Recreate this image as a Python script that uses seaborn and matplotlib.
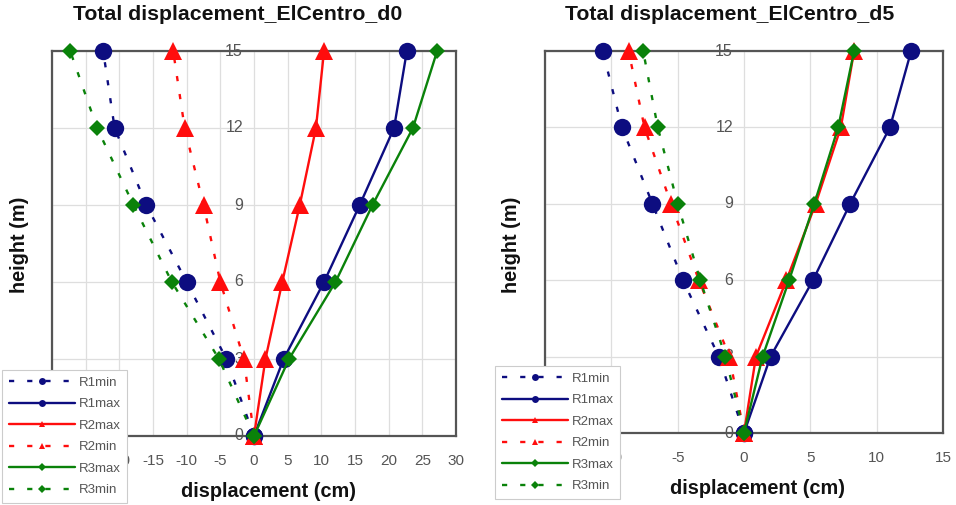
import numpy as np
import pandas as pd
import matplotlib
matplotlib.use("Agg")
import matplotlib.pyplot as plt
import matplotlib.transforms as mtransforms
from matplotlib.lines import Line2D
import seaborn as sns

# Storey heights (m)
heights = [0, 3, 6, 9, 12, 15]

# ElCentro, d0 case: peak displacements (cm)
d0_R1min = [0, -4.1, -10.0, -16.0, -20.7, -22.4]
d0_R1max = [0, 4.4, 10.4, 15.7, 20.8, 22.7]
d0_R2max = [0, 1.7, 4.2, 6.8, 9.2, 10.4]
d0_R2min = [0, -1.5, -5.0, -7.5, -10.3, -12.0]
d0_R3max = [0, 5.2, 12.1, 17.6, 23.6, 27.2]
d0_R3min = [0, -5.2, -12.2, -17.9, -23.3, -27.3]

# ElCentro, d5 case: peak displacements (cm)
d5_R1min = [0, -1.9, -4.6, -6.9, -9.2, -10.65]
d5_R1max = [0, 2.0, 5.2, 8.0, 11.0, 12.6]
d5_R2max = [0, 0.9, 3.2, 5.4, 7.3, 8.3]
d5_R2min = [0, -1.1, -3.4, -5.5, -7.5, -8.7]
d5_R3max = [0, 1.4, 3.4, 5.3, 7.1, 8.3]
d5_R3min = [0, -1.4, -3.3, -5.0, -6.5, -7.6]

series_names = ["R1min", "R1max", "R2max", "R2min", "R3max", "R3min"]
panel_titles = ["Total displacement_ElCentro_d0", "Total displacement_ElCentro_d5"]
x_ticks_d0 = [-30, -25, -20, -15, -10, -5, 0, 5, 10, 15, 20, 25, 30]
x_ticks_d5 = [-15, -10, -5, 0, 5, 10, 15]

BLUE, RED, GREEN = "#0d0d80", "#ff0d0d", "#0a820a"
DASH = (0, (2.2, 5.5))
LW = 1.7
styles = {
    "R1min": dict(color=BLUE, marker="o", ls=DASH, ms=12.5),
    "R1max": dict(color=BLUE, marker="o", ls="-", ms=12.5),
    "R2max": dict(color=RED, marker="^", ls="-", ms=12.5),
    "R2min": dict(color=RED, marker="^", ls=DASH, ms=12.5),
    "R3max": dict(color=GREEN, marker="D", ls="-", ms=8),
    "R3min": dict(color=GREEN, marker="D", ls=DASH, ms=8),
}

sns.set_theme(style="whitegrid")
plt.rcParams["font.family"] = ["Liberation Sans", "DejaVu Sans"]
plt.rcParams["axes.unicode_minus"] = False

fig = plt.figure(figsize=(9.56, 5.05), dpi=100)
W, H = 956, 505


def px_axes(x0, y0, x1, y1):
    return fig.add_axes([x0 / W, 1 - y1 / H, (x1 - x0) / W, (y1 - y0) / H])


panels = [
    dict(ax=px_axes(52, 51, 456, 436), data=[d0_R1min, d0_R1max, d0_R2max, d0_R2min, d0_R3max, d0_R3min],
         xlim=(-30, 30), xticks=x_ticks_d0, title_x=238, ylab_x=20, leg=(2, 370), xlab_x=0.535),
    dict(ax=px_axes(545, 51, 943, 433), data=[d5_R1min, d5_R1max, d5_R2max, d5_R2min, d5_R3max, d5_R3min],
         xlim=(-15, 15), xticks=x_ticks_d5, title_x=730, ylab_x=512, leg=(495, 366), xlab_x=0.533),
]

for p, title in zip(panels, panel_titles):
    ax = p["ax"]
    handles = []
    for name, vals in zip(series_names, p["data"]):
        st = styles[name]
        df = pd.DataFrame({"disp": vals, "height": heights})
        sns.lineplot(data=df, x="disp", y="height", orient="y", sort=False, ax=ax,
                     color=st["color"], marker=st["marker"], markersize=st["ms"],
                     markeredgewidth=0, linestyle=st["ls"], linewidth=LW,
                     clip_on=False, zorder=4)
        handles.append(Line2D([], [], color=st["color"], marker=st["marker"],
                              markersize=5 if st["marker"] != "D" else 3.6,
                              markeredgewidth=0, linestyle=st["ls"], linewidth=LW,
                              label=name))

    ax.set_xlim(*p["xlim"])
    ax.set_ylim(0, 15)
    ax.set_xticks(p["xticks"])
    ax.set_xticklabels([str(t) for t in p["xticks"]])
    ax.set_yticks(heights)
    ax.tick_params(axis="y", labelleft=False, length=0)
    ax.tick_params(axis="x", length=0, pad=13, labelsize=11, labelcolor="#555555")
    ax.grid(True, color="#dedede", linewidth=0.9)
    for sp in ax.spines.values():
        sp.set_color("#555555")
        sp.set_linewidth(1.6)
        sp.set_zorder(3)
    ax.set_xlabel("")
    ax.set_ylabel("")

    # Height labels sit on the zero-displacement line
    off = mtransforms.offset_copy(ax.transData, fig=fig, x=-11, y=0, units="dots")
    for h in heights:
        ax.text(0, h, str(h), transform=off, ha="right", va="center",
                fontsize=11.5, color="#555555", zorder=2)

    ax.set_xlabel("displacement (cm)", fontsize=14.3, fontweight="bold", color="#111111")
    ax.xaxis.set_label_coords(p["xlab_x"], -0.12)
    fig.text(p["title_x"] / W, 1 - 14 / H, title, ha="center", va="center",
             fontsize=15.3, fontweight="bold", color="#111111")
    fig.text(p["ylab_x"] / W, 1 - 245 / H, "height (m)", rotation=90, ha="center",
             va="center", fontsize=14.3, fontweight="bold", color="#111111")

    lx, ly = p["leg"]
    leg = ax.legend(handles=handles, loc="upper left",
                    bbox_to_anchor=(lx / W, 1 - ly / H), bbox_transform=fig.transFigure,
                    fontsize=9.5, handlelength=5.0, handletextpad=0.3,
                    labelspacing=0.7, borderpad=0.5, borderaxespad=0,
                    frameon=True, fancybox=False, framealpha=1, edgecolor="#cccccc",
                    facecolor="white", labelcolor="#555555")
    leg.get_frame().set_linewidth(0.8)
    leg.set_zorder(10)

fig.savefig("out.png", dpi=100)
